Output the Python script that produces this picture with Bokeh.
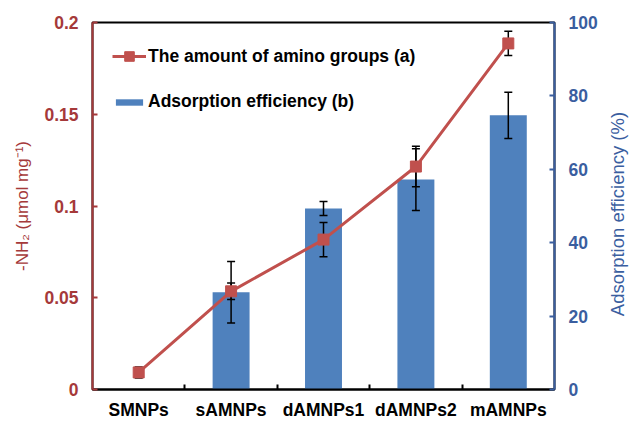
import math
from bokeh.plotting import figure
from bokeh.models import (Range1d, LinearAxis, FixedTicker, Whisker, TeeHead,
                          ColumnDataSource, Legend, LegendItem, Label)
from bokeh.embed import file_html
from bokeh.resources import INLINE

# ---- data ----
categories = ["SMNPs", "sAMNPs", "dAMNPs1", "dAMNPs2", "mAMNPs"]
amine = [0.0093, 0.0535, 0.0817, 0.1215, 0.1886]          # umol/mg
amine_err = [0.003, 0.0045, 0.0093, 0.011, 0.0066]
efficiency = [0.0, 26.5, 49.3, 57.2, 74.7]                # %
efficiency_err = [0.0, 8.4, 1.9, 8.4, 6.3]
left_ticks = [0, 0.05, 0.1, 0.15, 0.2]
left_tick_labels = ["0", "0.05", "0.1", "0.15", "0.2"]
right_ticks = [0, 20, 40, 60, 80, 100]
line_label = "The amount of amino groups (a)"
bar_label = "Adsorption efficiency (b)"
left_title = "-NH\u2082 (\u03bcmol mg\u207b\u00b9)"
right_title = "Adsorption efficiency (%)"

RED = "#C0504D"
DARKRED = "#A5393A"
BLUE = "#4F81BD"
DARKBLUE = "#3A5E9F"
FONT = "Liberation Sans"
FS = "17.5px"

W, H = 630, 424
BL, BR, BT, BB = 92, 76, 22, 35
FW, FH = W - BL - BR, H - BT - BB

xs = [i + 0.5 for i in range(len(categories))]
src = ColumnDataSource(dict(x=xs, amine=amine,
                            a_lo=[a - e for a, e in zip(amine, amine_err)],
                            a_hi=[a + e for a, e in zip(amine, amine_err)],
                            eff=efficiency))
bar_idx = [i for i, e in enumerate(efficiency_err) if e > 0]
bsrc = ColumnDataSource(dict(
    x=[xs[i] for i in bar_idx],
    lo=[efficiency[i] - efficiency_err[i] for i in bar_idx],
    hi=[efficiency[i] + efficiency_err[i] for i in bar_idx]))

p = figure(width=W, height=H, output_backend="svg", toolbar_location=None,
           x_range=Range1d(0, len(categories)), y_range=Range1d(0, 0.2),
           min_border_left=BL, min_border_right=BR, min_border_top=BT,
           min_border_bottom=BB)
p.extra_y_ranges = {"eff": Range1d(0, 100)}
p.grid.visible = False
p.outline_line_color = "black"
p.outline_line_width = 2
p.background_fill_color = "white"
p.border_fill_color = "white"

bars = p.vbar(x="x", top="eff", width=0.4, source=src, y_range_name="eff",
              fill_color=BLUE, line_color=None)
bar_wh = Whisker(base="x", lower="lo", upper="hi", source=bsrc, y_range_name="eff",
                 line_color="black", line_width=1.5, level="glyph",
                 upper_head=TeeHead(size=8, line_width=1.5, line_color="black"),
                 lower_head=TeeHead(size=8, line_width=1.5, line_color="black"))
line = p.line(x="x", y="amine", source=src, line_color=RED, line_width=3)
line_wh = Whisker(base="x", lower="a_lo", upper="a_hi", source=src,
                  line_color="black", line_width=1.5, level="glyph",
                  upper_head=TeeHead(size=8, line_width=1.5, line_color="black"),
                  lower_head=TeeHead(size=8, line_width=1.5, line_color="black"))
marks = p.scatter(x="x", y="amine", source=src, marker="square", size=11,
                  fill_color=RED, line_color=RED)
p.renderers = [bars, bar_wh, line, line_wh, marks]

# left axis
ya = p.yaxis[0]
ya.ticker = FixedTicker(ticks=left_ticks, minor_ticks=[])
ya.major_label_overrides = {t: s for t, s in zip(left_ticks, left_tick_labels)}
ya.axis_line_color = DARKRED
ya.axis_line_width = 2
ya.major_tick_line_color = DARKRED
ya.major_tick_line_width = 2
ya.major_tick_in = 5
ya.major_tick_out = 0
ya.minor_tick_line_color = None
ya.major_label_standoff = 14
ya.major_label_text_font = FONT
ya.major_label_text_font_size = FS
ya.major_label_text_font_style = "bold"
ya.major_label_text_color = DARKRED
ya.axis_label = left_title
ya.axis_label_text_font = FONT
ya.axis_label_text_font_size = "17px"
ya.axis_label_text_font_style = "normal"
ya.axis_label_text_color = DARKRED
ya.axis_label_standoff = 9

# right axis
ra = LinearAxis(y_range_name="eff", ticker=FixedTicker(ticks=right_ticks, minor_ticks=[]))
ra.axis_line_color = DARKBLUE
ra.axis_line_width = 2
ra.major_tick_line_color = DARKBLUE
ra.major_tick_line_width = 2
ra.major_tick_in = 5
ra.major_tick_out = 0
ra.minor_tick_line_color = None
ra.major_label_standoff = 14
ra.major_label_text_font = FONT
ra.major_label_text_font_size = FS
ra.major_label_text_font_style = "bold"
ra.major_label_text_color = DARKBLUE
p.add_layout(ra, "right")

# right axis title (reads bottom-to-top), in its own side panel
p.add_layout(Label(x=17, y=FH / 2 - 8, x_units="screen", y_units="screen",
                   text=right_title, angle=90, angle_units="deg",
                   text_align="center", text_baseline="middle",
                   text_font=FONT, text_font_size="18.5px", text_color=DARKBLUE),
             "right")

# bottom axis
xa = p.xaxis[0]
xa.ticker = FixedTicker(ticks=xs, minor_ticks=[i for i in range(1, len(categories))])
xa.major_label_overrides = {x: c for x, c in zip(xs, categories)}
xa.axis_line_color = "black"
xa.axis_line_width = 2
xa.major_tick_line_color = None
xa.minor_tick_line_color = "black"
xa.minor_tick_line_width = 2
xa.minor_tick_in = 5
xa.minor_tick_out = 0
xa.major_label_standoff = 4
xa.major_label_text_font = FONT
xa.major_label_text_font_size = FS
xa.major_label_text_font_style = "bold"
xa.major_label_text_color = "black"

# legends
common = dict(border_line_color=None, background_fill_alpha=0, padding=10,
              label_text_font=FONT, label_text_font_size=FS,
              label_text_font_style="bold", label_text_color="black",
              label_standoff=2, glyph_width=34, margin=0)
leg1 = Legend(items=[LegendItem(label=line_label, renderers=[line, marks])],
              location=(20, FH - 46), glyph_height=24, label_height=24, **common)
leg2 = Legend(items=[LegendItem(label=bar_label, renderers=[bars])],
              location=(20, FH - 90), glyph_height=8, label_height=20, **common)
p.add_layout(leg1)
p.add_layout(leg2)

open("out.html", "w").write(file_html(p, INLINE))
